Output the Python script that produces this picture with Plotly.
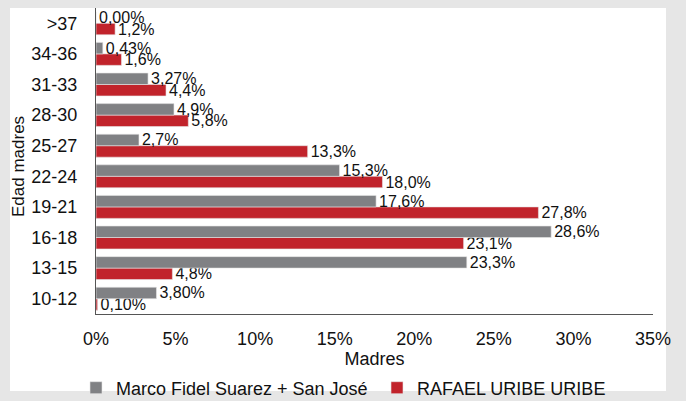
import plotly.graph_objects as go

categories = ["10-12", "13-15", "16-18", "19-21", "22-24", "25-27", "28-30", "31-33", "34-36", ">37"]
gray_name = "Marco Fidel Suarez + San José"
red_name = "RAFAEL URIBE URIBE"
gray_values = [3.80, 23.3, 28.6, 17.6, 15.3, 2.7, 4.9, 3.27, 0.43, 0.00]
red_values = [0.10, 4.8, 23.1, 27.8, 18.0, 13.3, 5.8, 4.4, 1.6, 1.2]
gray_labels = ["3,80%", "23,3%", "28,6%", "17,6%", "15,3%", "2,7%", "4,9%", "3,27%", "0,43%", "0,00%"]
red_labels = ["0,10%", "4,8%", "23,1%", "27,8%", "18,0%", "13,3%", "5,8%", "4,4%", "1,6%", "1,2%"]
x_ticks = [0, 5, 10, 15, 20, 25, 30, 35]
x_tick_labels = ["0%", "5%", "10%", "15%", "20%", "25%", "30%", "35%"]

FONT = "Liberation Sans"
GRAY = "#808184"
RED = "#c1232b"

fig = go.Figure()
fig.add_trace(go.Bar(
    y=categories, x=red_values, name=red_name, orientation="h",
    marker=dict(color=RED, line=dict(color="#e6e6e6", width=0.6)),
    text=red_labels, textposition="outside", constraintext="none",
    textfont=dict(family=FONT, size=16, color="#111111"),
    cliponaxis=False, legendrank=2,
))
fig.add_trace(go.Bar(
    y=categories, x=gray_values, name=gray_name, orientation="h",
    marker=dict(color=GRAY, line=dict(color="#e6e6e6", width=0.6)),
    text=gray_labels, textposition="outside", constraintext="none",
    textfont=dict(family=FONT, size=16, color="#111111"),
    cliponaxis=False, legendrank=1,
))

L, R, T, B = 96, 33, 8, 87
W, H = 686, 401
pw, ph = W - L - R, H - T - B

def px_x(p):
    return (p - L) / pw

def px_y(p):
    return (H - B - p) / ph

fig.add_shape(type="rect", xref="paper", yref="paper",
              x0=px_x(10), x1=px_x(666), y0=px_y(391), y1=px_y(8),
              fillcolor="white", line=dict(width=0), layer="below")

fig.add_annotation(text="Edad madres", xref="paper", yref="paper",
                   x=px_x(19), y=px_y(167), showarrow=False, textangle=-90,
                   xanchor="center", yanchor="middle",
                   font=dict(family=FONT, size=17, color="#111111"))

fig.update_layout(
    width=W, height=H,
    margin=dict(l=L, r=R, t=T, b=B, autoexpand=False),
    paper_bgcolor="#e6e6e6",
    plot_bgcolor="rgba(0,0,0,0)",
    barmode="group", bargap=0.25, bargroupgap=0,
    font=dict(family=FONT, size=18, color="#111111"),
    showlegend=True,
    legend=dict(orientation="h", x=px_x(76), xanchor="left", y=px_y(388), yanchor="middle",
                font=dict(family=FONT, size=18), entrywidth=256, entrywidthmode="pixels",
                bgcolor="rgba(0,0,0,0)", traceorder="normal"),
    xaxis=dict(range=[0, 35], tickvals=x_ticks, ticktext=x_tick_labels,
               showgrid=False, zeroline=False, showline=True, linecolor="#555555", linewidth=1,
               ticks="outside", ticklen=8, tickcolor="rgba(0,0,0,0)", tickfont=dict(size=18),
               automargin=False,
               title=dict(text="Madres", font=dict(size=18), standoff=0)),
    yaxis=dict(type="category", showgrid=False, showline=True, linecolor="#555555", linewidth=1,
               ticks="outside", ticklen=14, tickcolor="rgba(0,0,0,0)",
               tickfont=dict(size=18), categoryorder="array", categoryarray=categories,
               automargin=False),
)

fig.write_html("out.html", config={"displayModeBar": False},
               post_script="document.body.style.margin='0px';")
